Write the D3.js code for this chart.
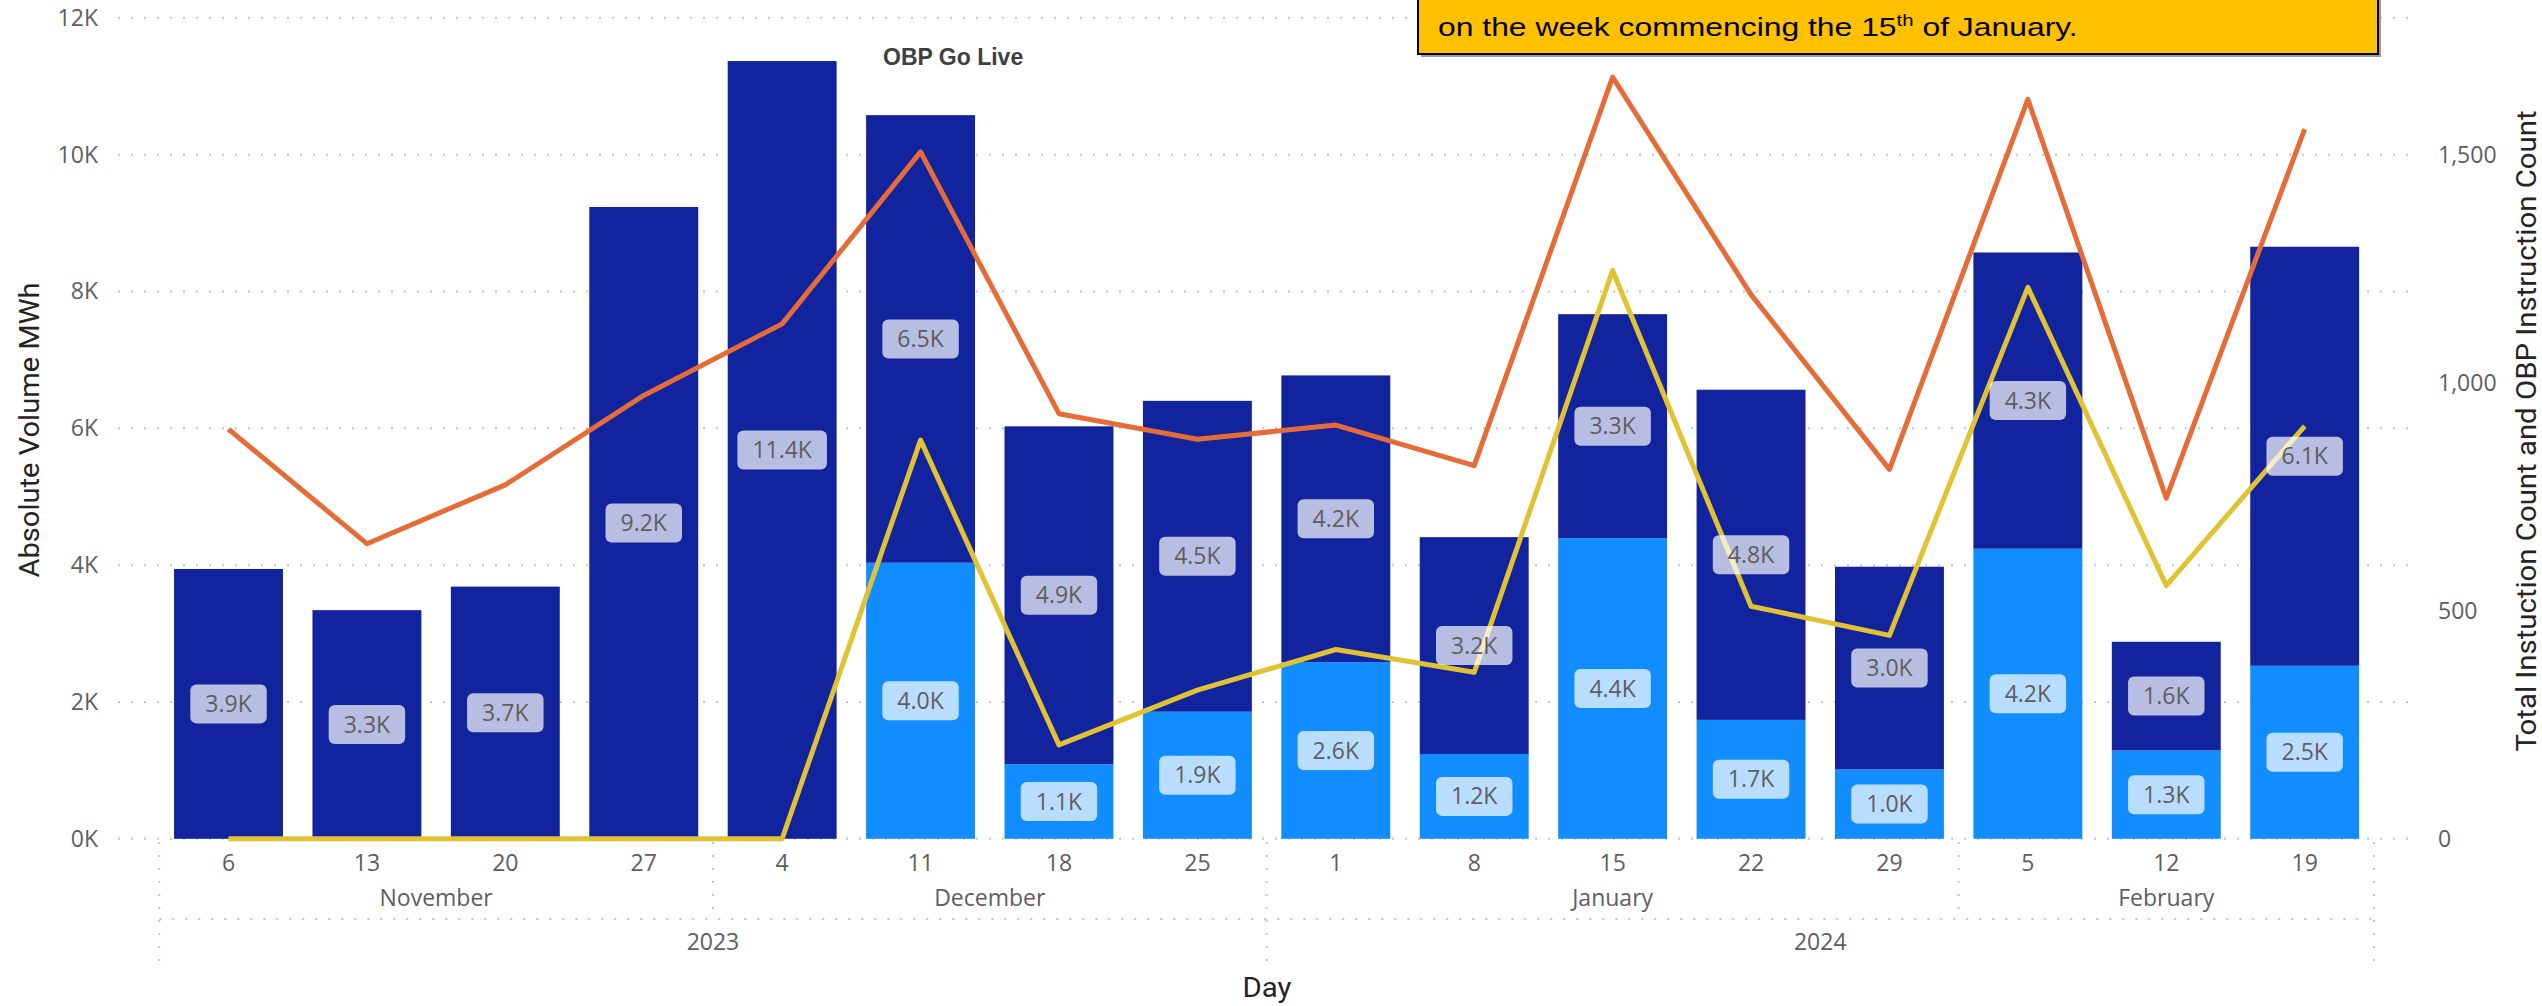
<!DOCTYPE html>
<html>
<head>
<meta charset="utf-8">
<script src="https://cdn.jsdelivr.net/npm/d3@7"></script>
<style>
body { margin: 0; background: #fff; }
svg { display: block; font-family: "Segoe UI", "Open Sans", sans-serif; }
</style>
</head>
<body>
<div id="container"></div>
<script>
// week commencing
const days = ["6", "13", "20", "27", "4", "11", "18", "25", "1", "8", "15", "22", "29", "5", "12", "19"];
const months = ["November", "November", "November", "November", "December", "December", "December", "December",
    "January", "January", "January", "January", "January", "February", "February", "February"];
const years = ["2023", "2023", "2023", "2023", "2023", "2023", "2023", "2023",
    "2024", "2024", "2024", "2024", "2024", "2024", "2024", "2024"];

// stacked volume MWh (light = bottom, dark = top)
const obpVolume = [0, 0, 0, 0, 0, 4035, 1089, 1858, 2582, 1240, 4393, 1738, 1015, 4240, 1291, 2529];
const otherVolume = [3944, 3342, 3686, 9235, 11368, 6542, 4940, 4543, 4191, 3169, 3275, 4826, 2962, 4330, 1589, 6125];

// instruction counts (right axis)
const totalCount = [898, 647, 776, 972, 1129, 1506, 932, 876, 907, 818, 1670, 1193, 810, 1621, 747, 1556];
const obpCount = [0, 0, 0, 0, 0, 874, 206, 326, 415, 365, 1246, 510, 446, 1209, 555, 905];

const leftTicks = [0, 2000, 4000, 6000, 8000, 10000, 12000];
const rightTicks = [0, 500, 1000, 1500];

const W = 2542, H = 1006;
const svg = d3.select("#container").append("svg")
    .attr("width", W)
    .attr("height", H);

const x = d3.scaleBand()
    .domain(d3.range(days.length))
    .range([159.3, 2373.9])
    .paddingInner(0.213)
    .paddingOuter(0.1065);
const bw = x.bandwidth();

const y = d3.scaleLinear().domain([0, 12000]).range([838.8, 17.8]);
const y2 = d3.scaleLinear().domain([0, 1800]).range([838.8, 17.8]);

const grey = "#605E5C";
const dotted = "2,11";
const gridColor = "#C8C6C4";

// gridlines
svg.append("g").selectAll("line")
    .data(leftTicks)
    .enter().append("line")
    .attr("x1", 118).attr("x2", 2408)
    .attr("y1", d => y(d)).attr("y2", d => y(d))
    .attr("stroke", gridColor)
    .attr("stroke-width", 2)
    .attr("stroke-dasharray", dotted);

// left axis
const yAxis = svg.append("g")
    .attr("transform", "translate(118,0)")
    .call(d3.axisLeft(y).tickValues(leftTicks).tickFormat(d => (d / 1000) + "K").tickSize(0).tickPadding(20));
yAxis.select(".domain").remove();
yAxis.selectAll("text").attr("fill", grey).style("font-size", "23px").style("font-family", "Segoe UI, Open Sans, sans-serif");

// right axis
const y2Axis = svg.append("g")
    .attr("transform", "translate(2418,0)")
    .call(d3.axisRight(y2).tickValues(rightTicks).tickFormat(d3.format(",")).tickSize(0).tickPadding(20));
y2Axis.select(".domain").remove();
y2Axis.selectAll("text").attr("fill", grey).style("font-size", "23px").style("font-family", "Segoe UI, Open Sans, sans-serif");

// x axis: days
const xAxis = svg.append("g")
    .attr("transform", `translate(0,${y(0)})`)
    .call(d3.axisBottom(x).tickFormat(i => days[i]).tickSize(0).tickPadding(16));
xAxis.select(".domain").remove();
xAxis.selectAll("text").attr("fill", grey).style("font-size", "23px").style("font-family", "Segoe UI, Open Sans, sans-serif");

// hierarchy groups (months, years)
function runs(arr) {
    const out = [];
    arr.forEach((v, i) => {
        if (out.length && out[out.length - 1].name === v) out[out.length - 1].end = i;
        else out.push({ name: v, start: i, end: i });
    });
    return out;
}
const x0 = x.range()[0];
const edge = i => x0 + i * x.step();

const monthRuns = runs(months);
const yearRuns = runs(years);

svg.append("g").selectAll("text")
    .data(monthRuns)
    .enter().append("text")
    .attr("x", d => (edge(d.start) + edge(d.end + 1)) / 2)
    .attr("y", 906)
    .attr("text-anchor", "middle")
    .attr("fill", grey)
    .style("font-size", "23px")
    .text(d => d.name);

svg.append("g").selectAll("text")
    .data(yearRuns)
    .enter().append("text")
    .attr("x", d => (edge(d.start) + edge(d.end + 1)) / 2)
    .attr("y", 950)
    .attr("text-anchor", "middle")
    .attr("fill", grey)
    .style("font-size", "23px")
    .text(d => d.name);

const sep = svg.append("g")
    .attr("stroke", gridColor)
    .attr("stroke-width", 2)
    .attr("stroke-dasharray", dotted);
sep.append("line")
    .attr("x1", edge(0)).attr("x2", edge(days.length))
    .attr("y1", 919).attr("y2", 919);
monthRuns.slice(1).forEach(d => {
    const isYear = yearRuns.some(r => r.start === d.start);
    sep.append("line")
        .attr("x1", edge(d.start)).attr("x2", edge(d.start))
        .attr("y1", 842).attr("y2", isYear ? 962 : 917);
});
[0, days.length].forEach(i => {
    sep.append("line")
        .attr("x1", edge(i)).attr("x2", edge(i))
        .attr("y1", 842).attr("y2", 962);
});

// bars
const bars = svg.append("g");
bars.selectAll(".obp")
    .data(obpVolume)
    .enter().append("rect")
    .attr("class", "obp")
    .attr("x", (d, i) => x(i))
    .attr("width", bw)
    .attr("y", d => y(d))
    .attr("height", d => y(0) - y(d))
    .attr("fill", "#118DFF");
bars.selectAll(".other")
    .data(otherVolume)
    .enter().append("rect")
    .attr("class", "other")
    .attr("x", (d, i) => x(i))
    .attr("width", bw)
    .attr("y", (d, i) => y(d + obpVolume[i]))
    .attr("height", (d, i) => y(obpVolume[i]) - y(d + obpVolume[i]))
    .attr("fill", "#12239E");

// lines
const line = d3.line()
    .x((d, i) => x(i) + bw / 2)
    .y(d => y2(d));
svg.append("path")
    .datum(totalCount)
    .attr("d", line)
    .attr("fill", "none")
    .attr("stroke", "#E66C37")
    .attr("stroke-width", 5)
    .attr("stroke-linejoin", "round");
svg.append("path")
    .datum(obpCount)
    .attr("d", line)
    .attr("fill", "none")
    .attr("stroke", "#E1C233")
    .attr("stroke-width", 5)
    .attr("stroke-linejoin", "round");

// data labels
const fmt = v => d3.format(".1f")(v / 1000) + "K";
const segs = [];
days.forEach((d, i) => {
    if (obpVolume[i] > 0) segs.push({ i, v: obpVolume[i], lo: 0, hi: obpVolume[i] });
    if (otherVolume[i] > 0) segs.push({ i, v: otherVolume[i], lo: obpVolume[i], hi: obpVolume[i] + otherVolume[i] });
});
const labels = svg.append("g").selectAll("g")
    .data(segs)
    .enter().append("g")
    .attr("transform", d => `translate(${x(d.i) + bw / 2},${(y(d.lo) + y(d.hi)) / 2})`);
labels.append("rect")
    .attr("fill", "#fff")
    .attr("fill-opacity", 0.7)
    .attr("rx", 6);
labels.append("text")
    .attr("text-anchor", "middle")
    .attr("dy", "0.35em")
    .attr("fill", grey)
    .style("font-size", "23px")
    .text(d => fmt(d.v));
labels.each(function() {
    const g = d3.select(this);
    const w = g.select("text").node().getComputedTextLength() + 30;
    g.select("rect").attr("x", -w / 2).attr("y", -19.5).attr("width", w).attr("height", 39);
});

// annotations
svg.append("text")
    .attr("x", 883)
    .attr("y", 65)
    .attr("fill", "#404040")
    .style("font-family", "Liberation Sans, Arial, sans-serif")
    .style("font-weight", "bold")
    .style("font-size", "23px")
    .text("OBP Go Live");

const note = svg.append("g");
note.append("rect")
    .attr("x", 1421).attr("y", -10)
    .attr("width", 960).attr("height", 67)
    .attr("fill", "#9a9a9a");
note.append("rect")
    .attr("x", 1418).attr("y", -10)
    .attr("width", 960).attr("height", 64)
    .attr("fill", "#FFC000")
    .attr("stroke", "#000")
    .attr("stroke-width", 2);
const noteText = note.append("text")
    .attr("x", 0)
    .attr("y", 0)
    .attr("fill", "#000")
    .style("font-family", "Liberation Sans, Arial, sans-serif")
    .style("font-size", "25px");
noteText.append("tspan").text("on the week commencing the 15");
noteText.append("tspan").attr("dy", -10).style("font-size", "16px").text("th");
noteText.append("tspan").attr("dy", 10).text(" of January.");
const nw = noteText.node().getBBox().width;
noteText.attr("transform", `translate(1438,36) scale(${640 / nw},1)`);

// axis titles
function title(txt, cx, cy, rot, len) {
    svg.append("text")
        .attr("transform", `translate(${cx},${cy}) rotate(${rot})`)
        .attr("text-anchor", "middle")
        .attr("dy", "0.35em")
        .attr("fill", "#252423")
        .attr("textLength", len)
        .attr("lengthAdjust", "spacingAndGlyphs")
        .style("font-family", "DIN, Roboto, sans-serif")
        .style("font-size", "27px")
        .text(txt);
}
title("Absolute Volume MWh", 30, 430, -90, 295);
title("Total Instuction Count and OBP Instruction Count", 2527, 431, -90, 641);
title("Day", 1267, 988, 0, 49);
</script>
</body>
</html>
